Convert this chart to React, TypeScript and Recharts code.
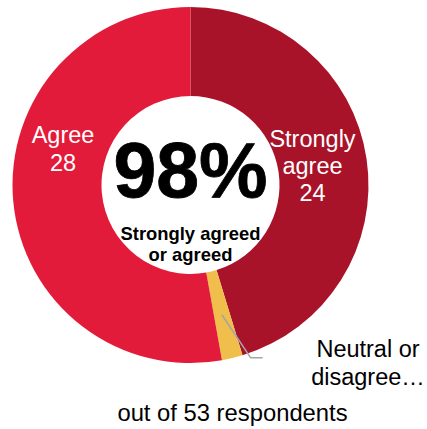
import React from "react";
import { PieChart, Pie, Cell } from "recharts";

const categories = ["Strongly agree", "Neutral or disagree…", "Agree"];
const counts = [24, 1, 28];
const labelLines = [["Strongly", "agree", "24"], ["Neutral or", "disagree…"], ["Agree", "28"]];
const colors = ["#A8132A", "#F0BE4B", "#E31B3A"];
const centerValue = "98%";
const centerCaption = ["Strongly agreed", "or agreed"];
const footnote = "out of 53 respondents";

const data = categories.map((name, i) => ({ name, value: counts[i], lines: labelLines[i] }));

const FONT = "'Liberation Sans', Arial, sans-serif";
const CX = 190.5;
const CY = 185;
const RIN = 89;
const ROUT = 178;

const labelAnchors: Record<string, { x: number; y: number; fill: string; lh: number }> = {
  "Strongly agree": { x: 312.5, y: 147, fill: "#ffffff", lh: 27 },
  "Agree": { x: 63, y: 143.3, fill: "#ffffff", lh: 27.3 },
  "Neutral or disagree…": { x: 368, y: 357, fill: "#000000", lh: 28 },
};

const renderLabel = (props: any) => {
  const { index, midAngle, cx, cy, innerRadius, outerRadius } = props;
  const d = data[index];
  const a = labelAnchors[d.name];
  const els: React.ReactNode[] = [];
  if (d.name === "Neutral or disagree…") {
    const rad = (-midAngle * Math.PI) / 180;
    const r0 = (innerRadius + outerRadius) / 2;
    const sx = cx + r0 * Math.cos(rad);
    const sy = cy + r0 * Math.sin(rad);
    const ex = cx + 183 * Math.cos(rad - 0.098);
    const ey = cy + 183 * Math.sin(rad - 0.098);
    els.push(
      <polyline
        key="l"
        points={`${sx},${sy} ${ex},${ey} ${ex + 12},${ey}`}
        fill="none"
        stroke="#A6A6A6"
        strokeWidth={1.6}
      />
    );
  }
  return (
    <g key={`lab-${index}`}>
      {els}
      <text x={a.x} y={a.y} textAnchor="middle" fill={a.fill} fontFamily={FONT} fontSize={23.5}>
        {d.lines.map((t, i) => (
          <tspan key={i} x={a.x} y={a.y + i * a.lh}>
            {t}
          </tspan>
        ))}
      </text>
    </g>
  );
};

export default function App() {
  return (
    <div style={{ position: "absolute", left: 0, top: 0, width: 427, height: 429, background: "#fff" }}>
      <PieChart width={427} height={429} margin={{ top: 0, right: 0, bottom: 0, left: 0 }}>
        <Pie
          data={data}
          dataKey="value"
          nameKey="name"
          cx={CX}
          cy={CY}
          innerRadius={RIN}
          outerRadius={ROUT}
          startAngle={90}
          endAngle={-270}
          stroke="none"
          isAnimationActive={false}
          label={renderLabel}
          labelLine={false}
        >
          {data.map((d, i) => (
            <Cell key={d.name} fill={colors[i]} />
          ))}
        </Pie>
        <text x={CX} y={197} textAnchor="middle" fontFamily={FONT} fontWeight="bold" fontSize={77} fill="#000" stroke="#000" strokeWidth={0.8}>
          {centerValue}
        </text>
        <text textAnchor="middle" fontFamily={FONT} fontWeight="bold" fontSize={18.4} fill="#000">
          {centerCaption.map((t, i) => (
            <tspan key={i} x={CX} y={240 + i * 20.5}>
              {t}
            </tspan>
          ))}
        </text>
        <text x={232.5} y={421} textAnchor="middle" fontFamily={FONT} fontSize={23.8} fill="#000">
          {footnote}
        </text>
      </PieChart>
    </div>
  );
}
